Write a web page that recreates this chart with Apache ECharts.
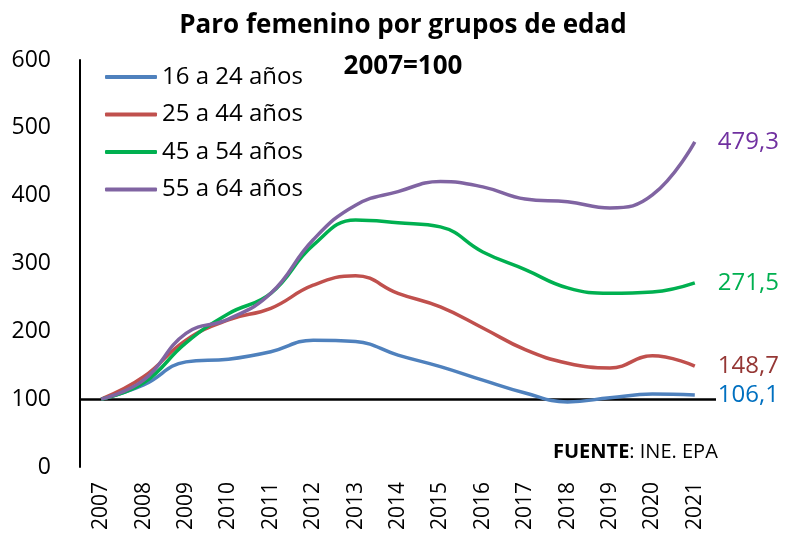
<!DOCTYPE html>
<html>
<head>
<meta charset="utf-8">
<script src="https://cdn.jsdelivr.net/npm/echarts@6/dist/echarts.min.js"></script>
<style>
  html, body { margin: 0; padding: 0; background: #fff; }
  #chart { width: 786px; height: 541px; }
</style>
</head>
<body>
<div id="chart"></div>
<script>
// Años (base 2007 = 100)
const years = ['2007','2008','2009','2010','2011','2012','2013','2014','2015','2016','2017','2018','2019','2020','2021'];

// Índice de paro femenino por grupo de edad
const edad16a24 = [100, 121, 155, 159, 170, 187, 185, 165, 148, 128, 109, 96, 102, 107.5, 106.1];
const edad25a44 = [100, 133, 187, 217, 234, 268, 282, 256, 236, 205, 173, 153, 146, 164, 148.7];
const edad45a54 = [100, 124, 183, 226, 256, 327, 364, 360, 354, 317, 291, 264, 256, 258, 271.5];
const edad55a64 = [100, 128, 197, 218, 256, 335, 386, 406, 421, 413, 395, 391, 382, 401, 479.3];

const seriesNames = ['16 a 24 años', '25 a 44 años', '45 a 54 años', '55 a 64 años'];
const yTicks = [0, 100, 200, 300, 400, 500, 600];

const lineColors = ['#4F81BD', '#C0504D', '#00B050', '#8064A2'];
const labelColors = ['#0070C0', '#953735', '#00B050', '#7030A0'];
const FONT = 'Open Sans';

const fmt = v => String(v.toFixed(1)).replace('.', ',');

function makeSeries(name, data, i) {
  const s = {
    name: name,
    type: 'line',
    data: data,
    smooth: 0.45,
    symbol: 'none',
    lineStyle: { width: 3.5, color: lineColors[i] },
    itemStyle: { color: lineColors[i] },
    endLabel: {
      show: true,
      distance: 23,
      formatter: p => fmt(p.value),
      color: labelColors[i],
      fontFamily: FONT,
      fontSize: 24
    },
    z: 3
  };
  if (i === 0) {
    s.markLine = {
      silent: true,
      symbol: 'none',
      label: { show: false },
      lineStyle: { color: '#000', width: 2.5, type: 'solid' },
      data: [{ yAxis: 100 }],
      z: 1
    };
  }
  return s;
}

const chart = echarts.init(document.getElementById('chart'), null, { renderer: 'canvas' });
chart.setOption({
  animation: false,
  backgroundColor: '#fff',
  title: {
    text: 'Paro femenino por grupos de edad\n2007=100',
    left: 398,
    textAlign: 'center',
    top: 0,
    textStyle: { fontFamily: FONT, fontSize: 26, fontWeight: 'bold', color: '#000', lineHeight: 41 }
  },
  legend: {
    orient: 'vertical',
    left: 100,
    top: 60,
    itemWidth: 52,
    itemHeight: 4,
    itemGap: 13.5,
    icon: 'roundRect',
    data: seriesNames,
    textStyle: { fontFamily: FONT, fontSize: 24, color: '#000' }
  },
  grid: { left: 80, right: 70, top: 60, bottom: 74, containLabel: false },
  xAxis: {
    type: 'category',
    data: years,
    boundaryGap: true,
    axisLine: { show: false },
    axisTick: { show: false },
    axisLabel: { rotate: 90, margin: 15, fontFamily: FONT, fontSize: 21, color: '#000' }
  },
  yAxis: {
    type: 'value',
    min: yTicks[0],
    max: yTicks[yTicks.length - 1],
    interval: 100,
    axisLine: { show: true, lineStyle: { color: '#000', width: 2 } },
    axisTick: { show: false },
    splitLine: { show: false },
    axisLabel: { margin: 29, fontFamily: FONT, fontSize: 23, color: '#000' }
  },
  graphic: [{
    type: 'text',
    left: 553,
    top: 442,
    style: {
      text: '{b|FUENTE}{n|: INE. EPA}',
      rich: {
        b: { fontFamily: FONT, fontSize: 20, fontWeight: 'bold', fill: '#000' },
        n: { fontFamily: FONT, fontSize: 20, fill: '#000' }
      }
    }
  }],
  series: [
    makeSeries(seriesNames[0], edad16a24, 0),
    makeSeries(seriesNames[1], edad25a44, 1),
    makeSeries(seriesNames[2], edad45a54, 2),
    makeSeries(seriesNames[3], edad55a64, 3)
  ]
});
</script>
</body>
</html>
